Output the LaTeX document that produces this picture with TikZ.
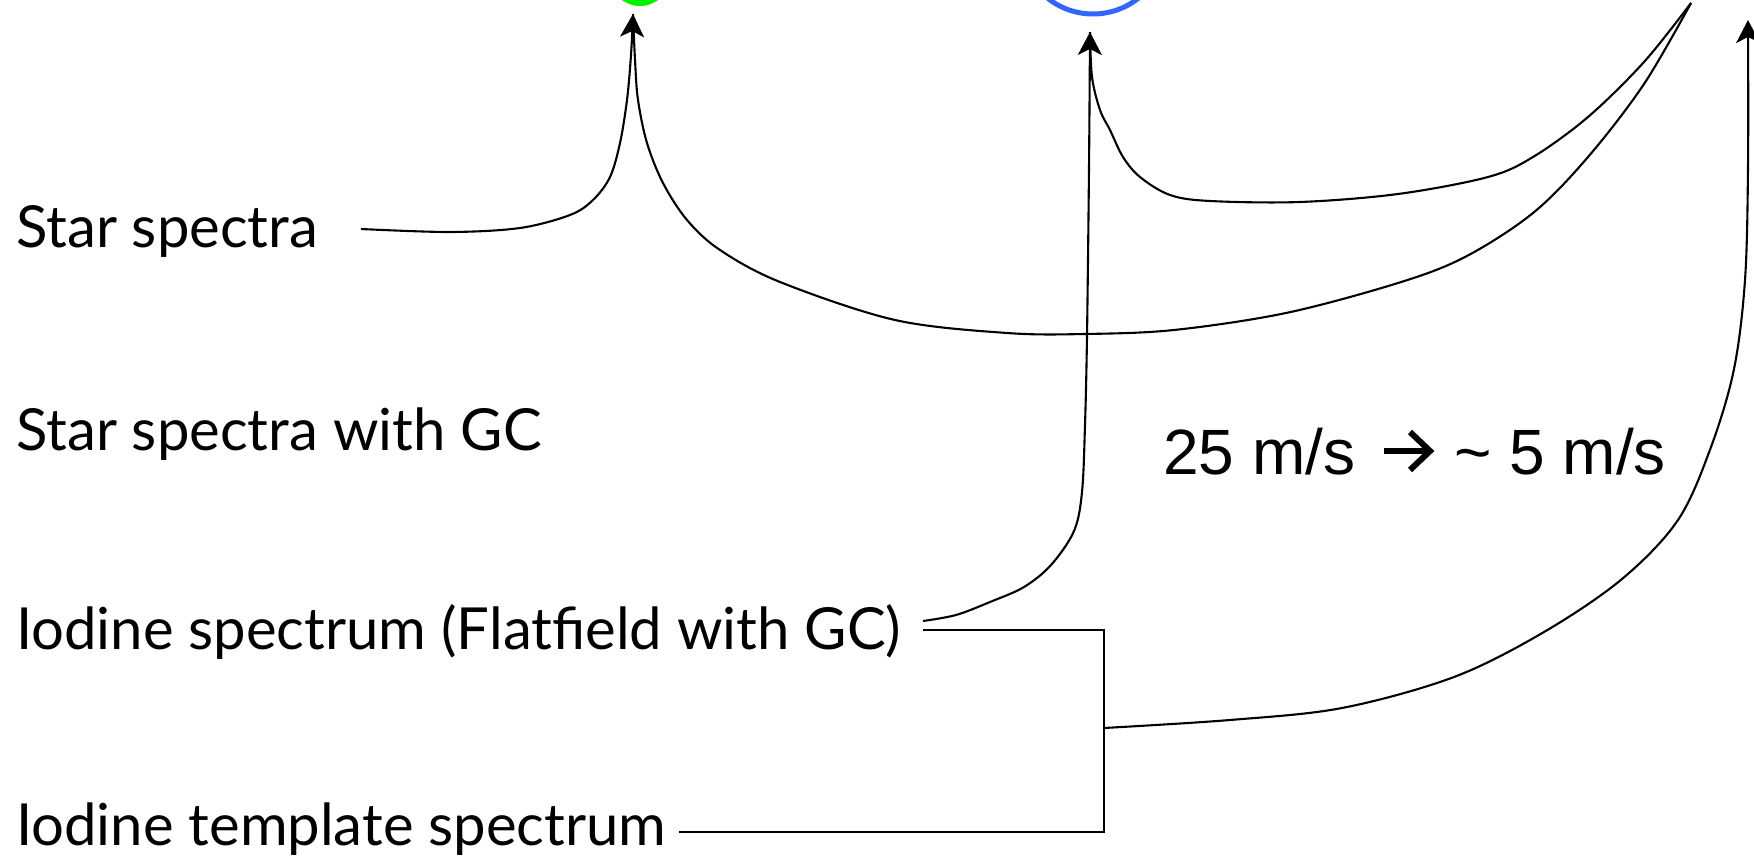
\documentclass[tikz,border=0pt]{standalone}
\usepackage{fontspec}
\setmainfont{Liberation Sans}
\newfontfamily\comic{Lato}
\usetikzlibrary{arrows.meta}
\definecolor{cgreen}{RGB}{0,240,0}
\definecolor{cblue}{RGB}{51,102,255}
\begin{document}
\begin{tikzpicture}[x=1pt,y=-1pt,
  conn/.style={line width=2.1pt},
  arr/.style={conn,-{Stealth[length=23pt,width=24pt,inset=6pt]}},
  lbl/.style={anchor=base west, inner sep=0pt, font=\comic\fontsize{58}{70}\selectfont},
  spd/.style={anchor=base west, inner sep=0pt, font=\fontsize{64}{76}\selectfont},
  chev/.style={line width=6pt}]
\useasboundingbox (0,0) rectangle (1754,858);
\clip (0,0) rectangle (1754,858);
% targets
\node[fill=cgreen, circle, minimum size=60pt, inner sep=0pt] (green) at (640,-24) {};
\node[draw=cblue, line width=5pt, circle, minimum size=146pt, inner sep=0pt] (blue) at (1093,-59) {};
% labels
\node[lbl] (star) at (16,248) {Star spectra};
\node[lbl] (stargc) at (16,450) {Star spectra with GC};
\node[lbl] (iod) at (16,649) {Iodine spectrum (Flatfield with GC)};
\node[lbl] (tmpl) at (16,845) {Iodine template spectrum};
\node[spd] (speedA) at (1163,474) {25 m/s};
\node[spd] (speedB) at (1454,474) {\char"007E{} 5 m/s};
% arrow inside the speed text
\coordinate (ashaft) at (1384,451);
\coordinate (apex) at (1430,451);
\coordinate (aup) at (1410,432);
\coordinate (adn) at (1410,470);
\draw[chev] (ashaft) -- ([xshift=-3pt]apex);
\draw[chev, line join=miter] (aup) -- (apex) -- (adn);
% coordinates
\coordinate (gtip) at (633,14);
\coordinate (btip) at (1090,32);
\coordinate (rtop) at (1691,3);
\coordinate (rtip) at (1748,20);
\coordinate (sstart) at (361,229);
\coordinate (istart) at (923,621);
\coordinate (ibr) at (923,630);
\coordinate (tend) at (679,832);
\coordinate (c1) at (1104,630);
\coordinate (c2) at (1104,832);
\coordinate (junc) at (1104,728);
% curves
\draw[arr] plot[smooth, tension=0.55] coordinates {(sstart) (450,232) (520,228) (570,215) (593,200) (610,177) (620,143) (627,100) (631,55) (gtip)};
\draw[conn] plot[smooth, tension=0.55] coordinates {(gtip) (635,60) (638,100) (647,143) (663,183) (687,220) (720,250) (780,282) (895,320) (1007,333) (1085,334) (1174,330) (1286,313) (1398,283) (1465,257) (1533,213) (1588,157) (1644,84) (rtop)};
\draw[conn] plot[smooth, tension=0.55] coordinates {(rtop) (1644,62) (1588,117) (1533,157) (1488,177) (1398,194) (1300,202) (1210,201) (1170,195) (1140,177) (1123,157) (1110,130) (1100,110) (1092,77) (btip)};
\draw[arr] plot[smooth, tension=0.55] coordinates {(istart) (956,615) (990,602) (1024,587) (1051,565) (1074,531) (1082,492) (1085,425) (1087,336) (1089,168) (btip)};
\draw[arr] plot[smooth, tension=0.55] coordinates {(junc) (1230,720) (1342,708) (1454,677) (1544,632) (1622,579) (1678,520) (1711,447) (1734,369) (1745,280) (1748,168) (rtip)};
% bracket
\draw[conn] (ibr) -- (c1) -- (c2) -- (tend);
\end{tikzpicture}
\end{document}
